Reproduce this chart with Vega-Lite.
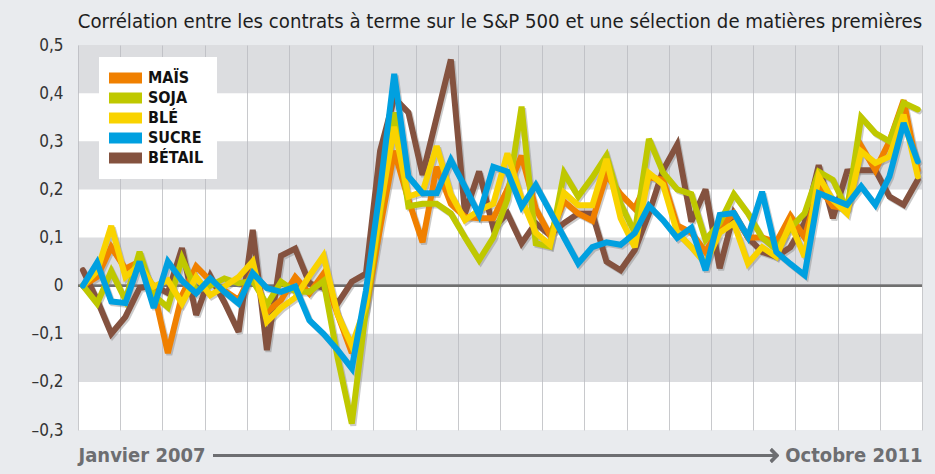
{
  "$schema": "https://vega.github.io/schema/vega-lite/v6.json",
  "width": 844,
  "height": 385,
  "autosize": {"type": "none"},
  "padding": {"left": 78, "top": 45, "right": 13, "bottom": 44},
  "background": "#e9ebee",
  "config": {"view": {"fill": "#ffffff", "stroke": null}, "font": "DejaVu Sans Condensed, Roboto Condensed, Liberation Sans Narrow, Liberation Sans"},
  "title": {
    "text": "Corrélation entre les contrats à terme sur le S&P 500 et une sélection de matières premières",
    "anchor": "middle",
    "frame": "group",
    "font": "DejaVu Sans Condensed, Roboto Condensed, Liberation Sans Narrow, Liberation Sans",
    "fontSize": 20.2,
    "fontWeight": "normal",
    "color": "#1e1e1e",
    "offset": 4
  },
  "datasets": {
    "bands": [
      {"lo": 0.4, "hi": 0.5},
      {"lo": 0.2, "hi": 0.3},
      {"lo": 0.0, "hi": 0.1},
      {"lo": -0.2, "hi": -0.1}
    ],
    "series": [
      {"i": 0, "BÉTAIL": 0.032, "MAÏS": 0.0, "SOJA": 0.0, "BLÉ": 0.0, "SUCRE": 0.0},
      {"i": 1, "BÉTAIL": -0.03, "MAÏS": 0.018, "SOJA": -0.037, "BLÉ": 0.03, "SUCRE": 0.048},
      {"i": 2, "BÉTAIL": -0.1, "MAÏS": 0.08, "SOJA": 0.03, "BLÉ": 0.124, "SUCRE": -0.033},
      {"i": 3, "BÉTAIL": -0.065, "MAÏS": 0.035, "SOJA": -0.03, "BLÉ": 0.018, "SUCRE": -0.036},
      {"i": 4, "BÉTAIL": -0.005, "MAÏS": 0.05, "SOJA": 0.07, "BLÉ": 0.043, "SUCRE": 0.05},
      {"i": 5, "BÉTAIL": 0.0, "MAÏS": -0.01, "SOJA": -0.02, "BLÉ": -0.002, "SUCRE": -0.046},
      {"i": 6, "BÉTAIL": -0.015, "MAÏS": -0.14, "SOJA": -0.045, "BLÉ": 0.011, "SUCRE": 0.05},
      {"i": 7, "BÉTAIL": 0.078, "MAÏS": -0.02, "SOJA": 0.057, "BLÉ": -0.037, "SUCRE": 0.01},
      {"i": 8, "BÉTAIL": -0.061, "MAÏS": 0.04, "SOJA": -0.01, "BLÉ": 0.018, "SUCRE": -0.016},
      {"i": 9, "BÉTAIL": 0.02, "MAÏS": 0.01, "SOJA": 0.0, "BLÉ": -0.02, "SUCRE": 0.015},
      {"i": 10, "BÉTAIL": -0.035, "MAÏS": -0.01, "SOJA": 0.015, "BLÉ": -0.002, "SUCRE": -0.013},
      {"i": 11, "BÉTAIL": -0.096, "MAÏS": -0.03, "SOJA": 0.005, "BLÉ": 0.018, "SUCRE": -0.037},
      {"i": 12, "BÉTAIL": 0.116, "MAÏS": 0.03, "SOJA": 0.01, "BLÉ": 0.05, "SUCRE": 0.026},
      {"i": 13, "BÉTAIL": -0.134, "MAÏS": -0.055, "SOJA": -0.04, "BLÉ": -0.075, "SUCRE": -0.005},
      {"i": 14, "BÉTAIL": 0.062, "MAÏS": -0.03, "SOJA": 0.008, "BLÉ": -0.046, "SUCRE": -0.013},
      {"i": 15, "BÉTAIL": 0.077, "MAÏS": 0.018, "SOJA": -0.012, "BLÉ": -0.025, "SUCRE": -0.002},
      {"i": 16, "BÉTAIL": 0.005, "MAÏS": -0.016, "SOJA": -0.013, "BLÉ": 0.02, "SUCRE": -0.072},
      {"i": 17, "BÉTAIL": -0.005, "MAÏS": 0.025, "SOJA": 0.01, "BLÉ": 0.062, "SUCRE": -0.1},
      {"i": 18, "BÉTAIL": -0.037, "MAÏS": -0.06, "SOJA": -0.15, "BLÉ": -0.06, "SUCRE": -0.134},
      {"i": 19, "BÉTAIL": 0.008, "MAÏS": -0.14, "SOJA": -0.287, "BLÉ": -0.125, "SUCRE": -0.172},
      {"i": 20, "BÉTAIL": 0.025, "MAÏS": -0.05, "SOJA": -0.05, "BLÉ": -0.04, "SUCRE": -0.01},
      {"i": 21, "BÉTAIL": 0.28, "MAÏS": 0.12, "SOJA": 0.15, "BLÉ": 0.16, "SUCRE": 0.2},
      {"i": 22, "BÉTAIL": 0.39, "MAÏS": 0.28, "SOJA": 0.36, "BLÉ": 0.33, "SUCRE": 0.44},
      {"i": 23, "BÉTAIL": 0.36, "MAÏS": 0.178, "SOJA": 0.165, "BLÉ": 0.185, "SUCRE": 0.227},
      {"i": 24, "BÉTAIL": 0.23, "MAÏS": 0.09, "SOJA": 0.17, "BLÉ": 0.195, "SUCRE": 0.192},
      {"i": 25, "BÉTAIL": 0.35, "MAÏS": 0.247, "SOJA": 0.17, "BLÉ": 0.29, "SUCRE": 0.192},
      {"i": 26, "BÉTAIL": 0.47, "MAÏS": 0.17, "SOJA": 0.15, "BLÉ": 0.19, "SUCRE": 0.261},
      {"i": 27, "BÉTAIL": 0.15, "MAÏS": 0.143, "SOJA": 0.1, "BLÉ": 0.136, "SUCRE": 0.205},
      {"i": 28, "BÉTAIL": 0.237, "MAÏS": 0.14, "SOJA": 0.053, "BLÉ": 0.157, "SUCRE": 0.147},
      {"i": 29, "BÉTAIL": 0.12, "MAÏS": 0.14, "SOJA": 0.1, "BLÉ": 0.17, "SUCRE": 0.247},
      {"i": 30, "BÉTAIL": 0.15, "MAÏS": 0.2, "SOJA": 0.18, "BLÉ": 0.275, "SUCRE": 0.237},
      {"i": 31, "BÉTAIL": 0.088, "MAÏS": 0.27, "SOJA": 0.372, "BLÉ": 0.18, "SUCRE": 0.164},
      {"i": 32, "BÉTAIL": 0.13, "MAÏS": 0.16, "SOJA": 0.088, "BLÉ": 0.11, "SUCRE": 0.209},
      {"i": 33, "BÉTAIL": 0.105, "MAÏS": 0.105, "SOJA": 0.081, "BLÉ": 0.085, "SUCRE": 0.155},
      {"i": 34, "BÉTAIL": 0.13, "MAÏS": 0.175, "SOJA": 0.234, "BLÉ": 0.193, "SUCRE": 0.1},
      {"i": 35, "BÉTAIL": 0.15, "MAÏS": 0.15, "SOJA": 0.185, "BLÉ": 0.167, "SUCRE": 0.046},
      {"i": 36, "BÉTAIL": 0.15, "MAÏS": 0.135, "SOJA": 0.225, "BLÉ": 0.167, "SUCRE": 0.08},
      {"i": 37, "BÉTAIL": 0.05, "MAÏS": 0.23, "SOJA": 0.27, "BLÉ": 0.263, "SUCRE": 0.09},
      {"i": 38, "BÉTAIL": 0.032, "MAÏS": 0.19, "SOJA": 0.17, "BLÉ": 0.14, "SUCRE": 0.085},
      {"i": 39, "BÉTAIL": 0.074, "MAÏS": 0.16, "SOJA": 0.11, "BLÉ": 0.08, "SUCRE": 0.109},
      {"i": 40, "BÉTAIL": 0.15, "MAÏS": 0.225, "SOJA": 0.305, "BLÉ": 0.234, "SUCRE": 0.166},
      {"i": 41, "BÉTAIL": 0.24, "MAÏS": 0.22, "SOJA": 0.235, "BLÉ": 0.21, "SUCRE": 0.136},
      {"i": 42, "BÉTAIL": 0.293, "MAÏS": 0.125, "SOJA": 0.2, "BLÉ": 0.11, "SUCRE": 0.099},
      {"i": 43, "BÉTAIL": 0.133, "MAÏS": 0.11, "SOJA": 0.19, "BLÉ": 0.08, "SUCRE": 0.12},
      {"i": 44, "BÉTAIL": 0.2, "MAÏS": 0.07, "SOJA": 0.095, "BLÉ": 0.046, "SUCRE": 0.032},
      {"i": 45, "BÉTAIL": 0.036, "MAÏS": 0.12, "SOJA": 0.13, "BLÉ": 0.11, "SUCRE": 0.147},
      {"i": 46, "BÉTAIL": 0.15, "MAÏS": 0.15, "SOJA": 0.19, "BLÉ": 0.13, "SUCRE": 0.151},
      {"i": 47, "BÉTAIL": 0.1, "MAÏS": 0.1, "SOJA": 0.15, "BLÉ": 0.046, "SUCRE": 0.101},
      {"i": 48, "BÉTAIL": 0.07, "MAÏS": 0.1, "SOJA": 0.1, "BLÉ": 0.08, "SUCRE": 0.195},
      {"i": 49, "BÉTAIL": 0.06, "MAÏS": 0.09, "SOJA": 0.075, "BLÉ": 0.06, "SUCRE": 0.07},
      {"i": 50, "BÉTAIL": 0.08, "MAÏS": 0.145, "SOJA": 0.12, "BLÉ": 0.13, "SUCRE": 0.045},
      {"i": 51, "BÉTAIL": 0.13, "MAÏS": 0.1, "SOJA": 0.15, "BLÉ": 0.06, "SUCRE": 0.022},
      {"i": 52, "BÉTAIL": 0.25, "MAÏS": 0.205, "SOJA": 0.237, "BLÉ": 0.227, "SUCRE": 0.192},
      {"i": 53, "BÉTAIL": 0.14, "MAÏS": 0.165, "SOJA": 0.22, "BLÉ": 0.178, "SUCRE": 0.18},
      {"i": 54, "BÉTAIL": 0.237, "MAÏS": 0.16, "SOJA": 0.157, "BLÉ": 0.15, "SUCRE": 0.168},
      {"i": 55, "BÉTAIL": 0.24, "MAÏS": 0.29, "SOJA": 0.35, "BLÉ": 0.279, "SUCRE": 0.206},
      {"i": 56, "BÉTAIL": 0.24, "MAÏS": 0.24, "SOJA": 0.317, "BLÉ": 0.255, "SUCRE": 0.168},
      {"i": 57, "BÉTAIL": 0.185, "MAÏS": 0.3, "SOJA": 0.3, "BLÉ": 0.268, "SUCRE": 0.227},
      {"i": 58, "BÉTAIL": 0.168, "MAÏS": 0.385, "SOJA": 0.38, "BLÉ": 0.355, "SUCRE": 0.338},
      {"i": 59, "BÉTAIL": 0.22, "MAÏS": 0.24, "SOJA": 0.366, "BLÉ": 0.227, "SUCRE": 0.258}
    ]
  },
  "layer": [
    {
      "data": {"name": "bands"},
      "mark": {"type": "rect", "color": "#b9bbc1", "opacity": 0.5},
      "encoding": {
        "y": {
          "field": "lo",
          "type": "quantitative",
          "scale": {"domain": [-0.3, 0.5], "nice": false, "zero": false},
          "axis": {
            "values": [-0.3, -0.2, -0.1, 0, 0.1, 0.2, 0.3, 0.4, 0.5],
            "grid": false,
            "ticks": false,
            "domain": false,
            "title": null,
            "labelExpr": "datum.value == 0 ? '0' : (datum.value < 0 ? '–' : '') + replace(format(abs(datum.value), '.1f'), '.', ',')",
            "labelFontSize": 17,
            "labelColor": "#333333",
            "labelPadding": 15,
            "labelOverlap": false,
            "labelFlush": false
          }
        },
        "y2": {"field": "hi"}
      }
    },
    {
      "data": {"name": "bands"},
      "mark": {"type": "rule", "color": "#6f6f6f", "strokeWidth": 2},
      "encoding": {"y": {"datum": 0}}
    },
    {
      "data": {"name": "series"},
      "transform": [{"fold": ["BÉTAIL", "MAÏS", "SOJA", "BLÉ", "SUCRE"], "as": ["serie", "v"]}],
      "layer": [
        {
          "mark": {"type": "line", "color": "#7d7d7d", "opacity": 0.4, "strokeWidth": 6, "xOffset": 1.5, "yOffset": 1.8, "strokeJoin": "miter", "strokeMiterLimit": 3, "strokeCap": "round"},
          "encoding": {
            "x": {
              "field": "i",
              "type": "quantitative",
              "scale": {"domain": [-0.35, 59.3], "nice": false, "zero": false},
              "axis": {
                "values": [-0.35, 2.6325, 5.615, 8.5975, 11.58, 14.5625, 17.545, 20.5275, 23.51, 26.4925, 29.475, 32.4575, 35.44, 38.4225, 41.405, 44.3875, 47.37, 50.3525, 53.335, 56.3175, 59.3],
                "grid": true,
                "gridColor": "#c8c9cc",
                "gridWidth": 1,
                "ticks": false,
                "domain": false,
                "title": null,
                "labelExpr": "datum.value < 0 ? 'Janvier 2007' : (datum.value > 59 ? 'Octobre 2011' : '')",
                "labelFontWeight": "bold",
                "labelFontSize": 20,
                "labelColor": "#6d6e71",
                "labelPadding": 15,
                "labelOverlap": false,
                "labelFlush": true
              }
            },
            "y": {"field": "v", "type": "quantitative"},
            "detail": {"field": "serie"}
          }
        },
        {
          "mark": {"type": "line", "strokeWidth": 6, "strokeJoin": "miter", "strokeMiterLimit": 3, "strokeCap": "round"},
          "encoding": {
            "x": {"field": "i", "type": "quantitative"},
            "y": {"field": "v", "type": "quantitative"},
            "color": {
              "field": "serie",
              "type": "nominal",
              "scale": {
                "domain": ["MAÏS", "SOJA", "BLÉ", "SUCRE", "BÉTAIL"],
                "range": ["#f08000", "#bfc800", "#f9d300", "#00a0e0", "#84523f"]
              },
              "legend": {
                "orient": "none",
                "legendX": 21,
                "legendY": 12,
                "title": null,
                "fillColor": "#ffffff",
                "padding": 13,
                "symbolType": "M-4,-2H8V2H-4Z",
                "symbolSize": 30.25,
                "labelFontWeight": "bold",
                "labelFontSize": 16,
                "labelColor": "#111111",
                "labelOffset": 20,
                "rowPadding": 4,
                "encode": {
                  "symbols": {"update": {"fill": {"scale": "color", "field": "value"}, "fillOpacity": {"value": 1}, "strokeWidth": {"value": 0}, "opacity": {"value": 1}}}
                }
              }
            }
          }
        }
      ]
    },
    {
      "data": {"name": "bands"},
      "mark": {"type": "rule", "color": "#6d6e71", "strokeWidth": 3},
      "encoding": {"x": {"datum": 9.2}, "x2": {"datum": 48.9}, "y": {"datum": -0.353}}
    },
    {
      "data": {"name": "bands"},
      "mark": {"type": "point", "shape": "M-1,-1L0,0L-1,1", "filled": false, "color": "#6d6e71", "strokeWidth": 3, "size": 150, "opacity": 1, "strokeJoin": "miter"},
      "encoding": {"x": {"datum": 49.05}, "y": {"datum": -0.353}}
    }
  ]
}
